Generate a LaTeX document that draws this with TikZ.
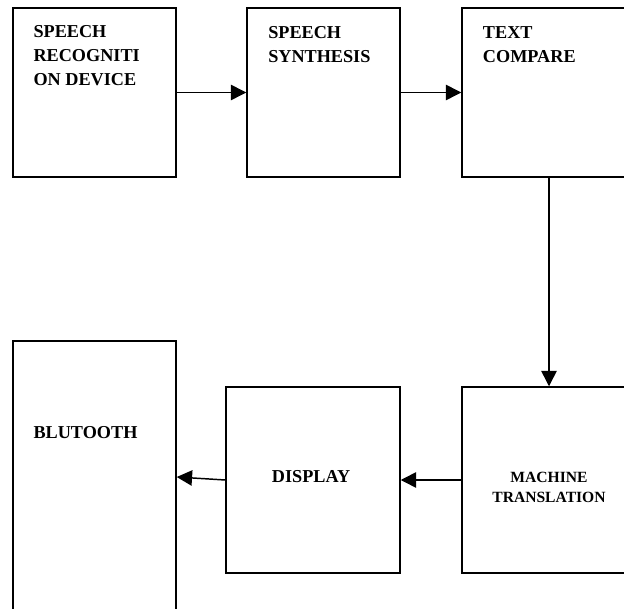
\documentclass[tikz,border=0pt]{standalone}
\usepackage{fontspec}
\setmainfont{Liberation Serif}
\usetikzlibrary{arrows.meta}

\begin{document}
\begin{tikzpicture}[x=0.75pt,y=-0.75pt,
		blockbox/.style={draw,line width=1.1pt,inner sep=0pt},
		boxtext/.style={inner sep=0pt,align=left,anchor=base west,font=\fontsize{13.65pt}{18.2pt}\selectfont\bfseries},
		mtext/.style={inner sep=0pt,align=center,font=\fontsize{11.7pt}{15.5pt}\selectfont\bfseries},
		flow/.style={-{Triangle[length=11.5pt,width=11.5pt]},line width=1.1pt}]
		\clip (0,0) rectangle (624,609);
		
		\node[blockbox,minimum width=122.25pt,minimum height=126.75pt] (recog) at (94.5,92.5) {};
		\node[blockbox,minimum width=114.75pt,minimum height=126.75pt] (synth) at (323.5,92.5) {};
		\node[blockbox,minimum width=130.5pt,minimum height=126.75pt] (compare) at (549,92.5) {};
		\node[blockbox,minimum width=130.5pt,minimum height=139.5pt] (mt) at (549,480) {};
		\node[blockbox,minimum width=130.5pt,minimum height=139.5pt] (disp) at (313,480) {};
		\node[blockbox,minimum width=122.25pt,minimum height=204pt] (blue) at (94.5,477) {};
		
		% the base of a text node is its last line
		\node[boxtext] (recogtext) at (33.3,86) {SPEECH\\RECOGNITI\\ON DEVICE};
		\node[boxtext] (synthtext) at (268,62.7) {SPEECH\\SYNTHESIS};
		\node[boxtext] (comparetext) at (482.7,62.7) {TEXT\\COMPARE};
		\node[boxtext] (bluetext) at (33.3,438.3) {BLUTOOTH};
		\node[boxtext] (disptext) at (271.7,482.7) {DISPLAY};
		\node[mtext] (mttext) at (549,487.5) {MACHINE\\TRANSLATION};
		
		\draw[flow] (recog) -- (synth);
		\draw[flow] (synth) -- (compare);
		\draw[flow] (compare) -- (mt);
		\draw[flow] (mt) -- (disp);
		\draw[flow] (disp.west) -- (blue.east);
	\end{tikzpicture}
\end{document}
